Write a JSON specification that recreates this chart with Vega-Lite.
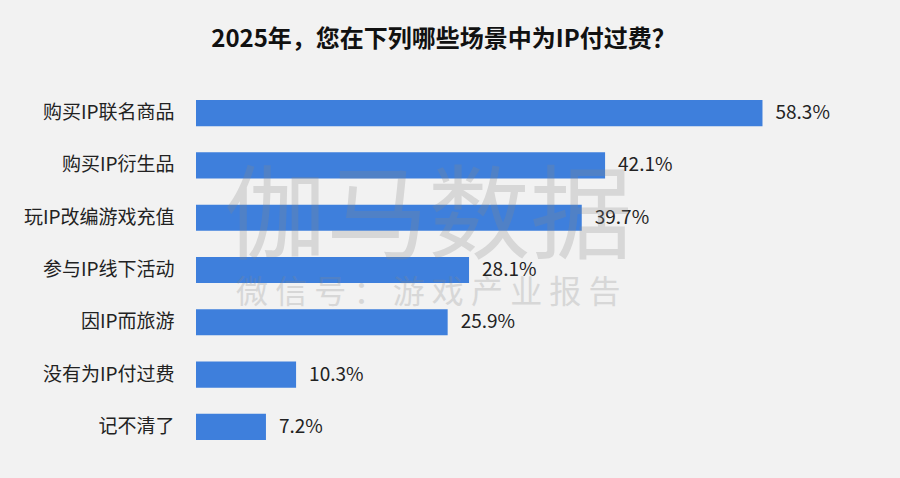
{
  "$schema": "https://vega.github.io/schema/vega-lite/v6.json",
  "width": 583,
  "height": 366,
  "autosize": "none",
  "padding": {"left": 196, "top": 87, "right": 121, "bottom": 25},
  "background": "#f2f2f2",
  "title": {
    "text": "2025年，您在下列哪些场景中为IP付过费？",
    "font": "Noto Sans CJK SC",
    "fontSize": 24,
    "fontWeight": "bold",
    "color": "#111111",
    "anchor": "middle",
    "dx": -44,
    "offset": 35
  },
  "config": {"view": {"stroke": null}, "font": "Noto Sans CJK SC"},
  "layer": [
    {
      "data": {
        "values": [
          {"scene": "购买IP联名商品", "pct": 58.3},
          {"scene": "购买IP衍生品", "pct": 42.1},
          {"scene": "玩IP改编游戏充值", "pct": 39.7},
          {"scene": "参与IP线下活动", "pct": 28.1},
          {"scene": "因IP而旅游", "pct": 25.9},
          {"scene": "没有为IP付过费", "pct": 10.3},
          {"scene": "记不清了", "pct": 7.2}
        ]
      },
      "transform": [{"calculate": "format(datum.pct, '.1f') + '%'", "as": "label"}],
      "encoding": {
        "y": {
          "field": "scene",
          "type": "nominal",
          "sort": ["购买IP联名商品", "购买IP衍生品", "玩IP改编游戏充值", "参与IP线下活动", "因IP而旅游", "没有为IP付过费", "记不清了"],
          "scale": {"paddingInner": 0.5, "paddingOuter": 0.25},
          "axis": {
            "title": null,
            "domain": false,
            "ticks": false,
            "labelPadding": 22,
            "labelFontSize": 19,
            "labelColor": "#222222",
            "labelFont": "Noto Sans CJK SC",
            "labelLimit": 200
          }
        },
        "x": {
          "field": "pct",
          "type": "quantitative",
          "scale": {"domain": [0, 60]},
          "axis": null
        }
      },
      "layer": [
        {"mark": {"type": "bar", "color": "#3e7fdc"}},
        {
          "mark": {"type": "text", "align": "left", "dx": 13, "fontSize": 19, "color": "#222222", "font": "Noto Sans CJK SC"},
          "encoding": {"text": {"field": "label"}}
        }
      ]
    },
    {
      "data": {
        "values": [
          {"scene": "玩IP改编游戏充值", "pos": 23.9, "mark": "伽马数据"}
        ]
      },
      "mark": {"type": "text", "fontSize": 102, "dy": 2, "fill": "#888888", "opacity": 0.25, "font": "Noto Sans CJK SC"},
      "encoding": {
        "y": {"field": "scene", "type": "nominal", "sort": ["购买IP联名商品", "购买IP衍生品", "玩IP改编游戏充值", "参与IP线下活动", "因IP而旅游", "没有为IP付过费", "记不清了"]},
        "x": {"field": "pos", "type": "quantitative"},
        "text": {"field": "mark"}
      }
    },
    {
      "data": {
        "values": [
          {"scene": "参与IP线下活动", "pos": 23.9, "mark": "微 信 号 ： 游 戏 产 业 报 告"}
        ]
      },
      "mark": {"type": "text", "fontSize": 32, "dy": 23, "fill": "#888888", "opacity": 0.25, "font": "Noto Sans CJK SC"},
      "encoding": {
        "y": {"field": "scene", "type": "nominal", "sort": ["购买IP联名商品", "购买IP衍生品", "玩IP改编游戏充值", "参与IP线下活动", "因IP而旅游", "没有为IP付过费", "记不清了"]},
        "x": {"field": "pos", "type": "quantitative"},
        "text": {"field": "mark"}
      }
    }
  ]
}
